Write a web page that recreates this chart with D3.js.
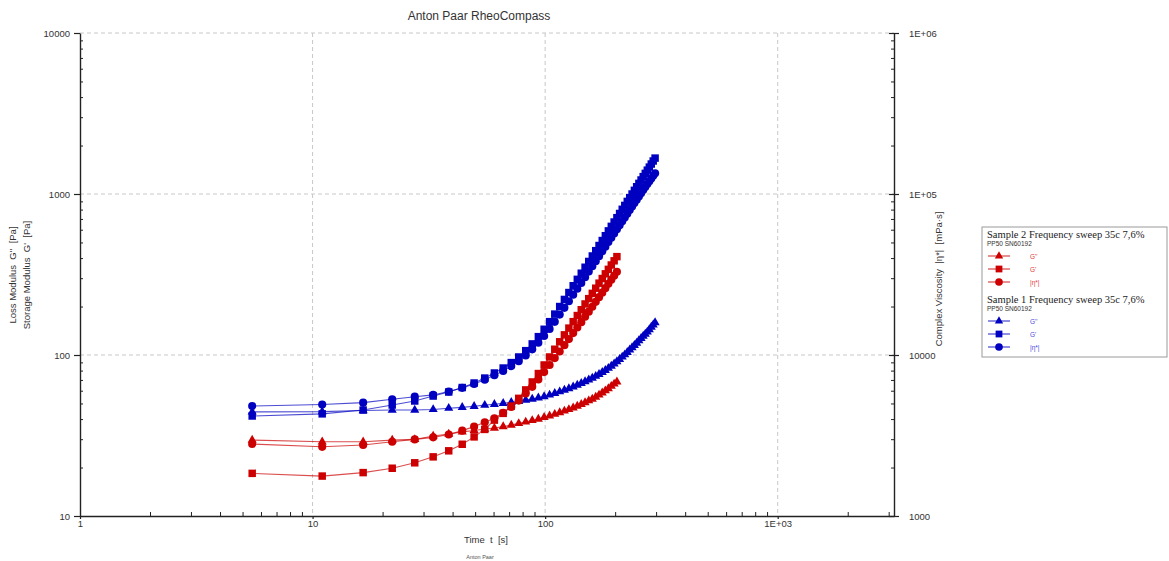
<!DOCTYPE html>
<html><head><meta charset="utf-8">
<script src="https://cdn.jsdelivr.net/npm/d3@7"></script>
<style>
body{margin:0;background:#fff;}
svg{display:block;font-family:"Liberation Sans",Arial,sans-serif;}
</style>
</head><body>
<svg id="c" width="1169" height="561"></svg>
<script>
// ---- data ----
const times = [5.5,11,16.5,22,27.5,33,38.5,44,49.5,55,60.5,66,71.5,77,82.5,88,93.5,99,104.5,110,
  115.5,121,126.5,132,137.5,143,148.5,154,159.5,165,170.5,176,181.5,187,192.5,198,203.5,209,214.5,220,
  225.5,231,236.5,242,247.5,253,258.5,264,269.5,275,280.5,286,291.5,297];

// Sample 1 (blue)
const s1Gpp = [44.3,44.5,45.2,45.5,45.5,45.9,46.7,47.3,48.0,48.8,49.4,50.1,50.8,51.5,52.5,53.3,54.2,55.2,56.5,57.8,
  59.2,60.5,61.9,63.4,65.0,66.7,68.4,70.1,71.9,73.8,75.9,78.0,80.4,82.8,85.3,88.1,91.0,94.0,97.2,100.5,
  104.0,107.6,111.2,114.8,118.6,123,127,131,135,139,144,149,154,159];
const s1Gp = [41.8,43.1,45.5,48.9,51.8,55.6,58.9,62.8,67.0,71.9,77.3,83.0,89.7,97.2,106.4,117.2,130.0,144.5,161.1,179.5,
  200.0,221.3,244.3,269.2,295.1,322.1,350.8,381.1,412.1,444.6,478.6,514.0,550.8,590.2,629.5,669.9,712.8,756.8,803.5,849.2,
  899.5,948.4,1000,1054,1109,1164,1222,1282,1343,1406,1469,1535,1603,1671];
const s1Eta = [4820,4930,5060,5310,5510,5650,5930,6250,6610,7030,7480,7960,8530,9160,9930,10840,11910,13120,14520,16070,
  17820,19630,21580,23660,25820,28050,30410,32960,35560,38280,41110,44060,47100,50350,53580,56890,60390,63970,67760,71450,
  75510,79430,83560,87900,92260,96610,101160,105930,110660,115350,119950,124740,129720,134590];

// Sample 2 (red)
const s2Gpp = [29.6,28.9,28.9,29.6,29.9,31.4,32.3,33.3,34.0,34.7,35.2,35.9,36.7,37.6,38.4,39.2,40.0,41.0,41.9,42.9,
  43.9,44.9,45.9,47.0,48.2,49.4,50.7,52.0,53.3,54.8,56.5,58.2,60.0,61.9,64.0,66.1,68.2];
const s2Gp = [18.4,17.7,18.6,19.8,21.4,23.3,25.4,27.9,31.0,34.5,39.4,43.4,48.2,53.8,60.7,68.0,76.7,86.7,97.2,108.6,
  120.8,133.4,146.9,161.1,175.8,191.0,207.5,223.9,241.5,260.0,279.3,298.5,319.2,340.4,362.2,384.6,408.3];
const s2Eta = [2800,2690,2760,2890,2990,3080,3210,3390,3590,3820,4050,4380,4750,5210,5770,6340,7050,7830,8670,9570,
  10520,11510,12560,13680,14830,16000,17300,18580,19950,21380,22860,24380,26000,27670,29380,31050,32890];

// ticks
const xTicks = [1,10,100,1000];
const xTickLabels = ["1","10","100","1E+03"];
const xMinor = [2,3,4,5,6,7,8,9,20,30,40,50,60,70,80,90,200,300,400,500,600,700,800,900,2000,3000];
const yLTicks = [10,100,1000,10000];
const yLTickLabels = ["10","100","1000","10000"];
const yLMinor = [20,30,40,50,60,70,80,90,200,300,400,500,600,700,800,900,2000,3000,4000,5000,6000,7000,8000,9000];
const yRTicks = [1000,10000,100000,1000000];
const yRTickLabels = ["1000","10000","1E+05","1E+06"];
const yRMinor = [2000,3000,4000,5000,6000,7000,8000,9000,20000,30000,40000,50000,60000,70000,80000,90000,
  200000,300000,400000,500000,600000,700000,800000,900000];

const legendGroups = [
  {title:"Sample 2 Frequency sweep 35c 7,6%", sub:"PP50 SN60192", color:"#cc0000", text:"#e03a3a",
   items:[["triangle","G''"],["square","G'"],["circle","|η*|"]]},
  {title:"Sample 1 Frequency sweep 35c 7,6%", sub:"PP50 SN60192", color:"#0000c0", text:"#4848e0",
   items:[["triangle","G''"],["square","G'"],["circle","|η*|"]]}
];

// ---- layout ----
const L = 80, R = 894, T = 33, B = 516;
const svg = d3.select("#c");
const x = d3.scaleLog().domain([1, Math.pow(10, 3.5)]).range([L, R]);
const yL = d3.scaleLog().domain([10, 10000]).range([B, T]);
const yR = d3.scaleLog().domain([1000, 1000000]).range([B, T]);

// grid
const grid = svg.append("g").attr("stroke", "#c8c8c8").attr("stroke-dasharray", "4,3").attr("stroke-width", 1);
[10,100,1000].forEach(v => grid.append("line").attr("x1", x(v)).attr("x2", x(v)).attr("y1", T).attr("y2", B));
[100,1000,10000].forEach(v => grid.append("line").attr("x1", L).attr("x2", R).attr("y1", yL(v)).attr("y2", yL(v)));

function styleAxis(g) {
  g.select(".domain").attr("stroke", "#222").attr("stroke-width", 1.4);
  g.selectAll(".tick line").attr("stroke", "#222").attr("stroke-width", 1.2);
  g.selectAll("text").attr("fill", "#333").style("font-size", "9.5px").style("font-family", "'Liberation Sans',Arial,sans-serif");
}

// bottom axis
const gx = svg.append("g").attr("transform", `translate(0,${B})`)
  .call(d3.axisBottom(x).tickValues(xTicks).tickFormat((d,i) => xTickLabels[i]).tickSizeInner(3).tickSizeOuter(0).tickPadding(1));
styleAxis(gx);
svg.append("g").attr("transform", `translate(0,${B})`)
  .call(d3.axisBottom(x).tickValues(xMinor).tickFormat("").tickSizeInner(-4).tickSizeOuter(0))
  .call(g => { g.select(".domain").remove(); g.selectAll("line").attr("stroke", "#222"); });

// left axis
const gyl = svg.append("g").attr("transform", `translate(${L},0)`)
  .call(d3.axisLeft(yL).tickValues(yLTicks).tickFormat((d,i) => yLTickLabels[i]).tickSizeInner(6).tickSizeOuter(0).tickPadding(4));
styleAxis(gyl);
svg.append("g").attr("transform", `translate(${L},0)`)
  .call(d3.axisLeft(yL).tickValues(yLMinor).tickFormat("").tickSizeInner(-3).tickSizeOuter(0))
  .call(g => { g.select(".domain").remove(); g.selectAll("line").attr("stroke", "#222"); });

// right axis
const gyr = svg.append("g").attr("transform", `translate(${R},0)`)
  .call(d3.axisRight(yR).tickValues(yRTicks).tickFormat((d,i) => yRTickLabels[i]).tickSizeInner(5).tickSizeOuter(0).tickPadding(10));
styleAxis(gyr);
svg.append("g").attr("transform", `translate(${R},0)`)
  .call(d3.axisRight(yR).tickValues(yRMinor).tickFormat("").tickSizeInner(-3).tickSizeOuter(0))
  .call(g => { g.select(".domain").remove(); g.selectAll("line").attr("stroke", "#222"); });
svg.append("g").attr("transform", `translate(${R},0)`)
  .call(d3.axisRight(yR).tickValues(yRTicks).tickFormat("").tickSizeInner(-5).tickSizeOuter(0))
  .call(g => { g.select(".domain").remove(); g.selectAll("line").attr("stroke", "#222").attr("stroke-width", 1.2); });

// texts
svg.append("text").attr("x", 479).attr("y", 20).attr("text-anchor", "middle")
  .style("font-size", "12px").attr("fill", "#333").text("Anton Paar RheoCompass");
svg.append("text").attr("x", 486).attr("y", 543).attr("text-anchor", "middle")
  .style("font-size", "9.5px").attr("fill", "#333").style("white-space", "pre").text("Time  t  [s]");
svg.append("text").attr("x", 480).attr("y", 559).attr("text-anchor", "middle")
  .style("font-size", "5.5px").attr("fill", "#555").text("Anton Paar");
svg.append("text").attr("transform", "translate(16,275) rotate(-90)").attr("text-anchor", "middle")
  .style("font-size", "9.5px").attr("fill", "#333").style("white-space", "pre").text("Loss Modulus  G''  [Pa]");
svg.append("text").attr("transform", "translate(30,275) rotate(-90)").attr("text-anchor", "middle")
  .style("font-size", "9.5px").attr("fill", "#333").style("white-space", "pre").text("Storage Modulus  G'  [Pa]");
svg.append("text").attr("transform", "translate(942,279) rotate(-90)").attr("text-anchor", "middle")
  .style("font-size", "9.5px").attr("fill", "#333").style("white-space", "pre").text("Complex Viscosity  |η*|  [mPa·s]");

// series
const symbols = {
  triangle: d3.symbol().type(d3.symbolTriangle).size(36),
  square: d3.symbol().type(d3.symbolSquare).size(56),
  circle: d3.symbol().type(d3.symbolCircle).size(52)
};
function drawSeries(xs, ys, yScale, color, shape) {
  const pts = xs.map((t,i) => [x(t), yScale(ys[i])]);
  svg.append("path").attr("d", d3.line()(pts)).attr("fill", "none")
    .attr("stroke", color).attr("stroke-width", 1.1).attr("stroke-opacity", 0.7);
  svg.append("g").selectAll("path").data(pts).join("path")
    .attr("transform", d => `translate(${d[0]},${d[1]})`)
    .attr("d", symbols[shape]()).attr("fill", color);
}
const blue = "#0000c0", red = "#cc0000";
drawSeries(times, s1Gpp, yL, blue, "triangle");
drawSeries(times, s1Gp, yL, blue, "square");
drawSeries(times, s1Eta, yR, blue, "circle");
const t2 = times.slice(0, s2Gp.length);
drawSeries(t2, s2Gpp, yL, red, "triangle");
drawSeries(t2, s2Gp, yL, red, "square");
drawSeries(t2, s2Eta, yR, red, "circle");

// legend
const lg = svg.append("g");
lg.append("rect").attr("x", 982).attr("y", 227).attr("width", 185).attr("height", 130)
  .attr("fill", "#fff").attr("stroke", "#9a9a9a").attr("stroke-width", 1);
const legSym = {
  triangle: d3.symbol().type(d3.symbolTriangle).size(30),
  square: d3.symbol().type(d3.symbolSquare).size(46),
  circle: d3.symbol().type(d3.symbolCircle).size(46)
};
const groupY = [238, 303];
const rowY = [[256,269,282],[321,334,347]];
legendGroups.forEach((g, gi) => {
  lg.append("text").attr("x", 987).attr("y", groupY[gi]).style("font-family", "'Liberation Serif','Times New Roman',serif")
    .style("font-size", "10.5px").attr("fill", "#222").text(g.title);
  lg.append("text").attr("x", 987).attr("y", groupY[gi] + 8).style("font-size", "6.5px").attr("fill", "#333").text(g.sub);
  g.items.forEach((it, ii) => {
    const yy = rowY[gi][ii];
    lg.append("line").attr("x1", 988).attr("x2", 1010).attr("y1", yy).attr("y2", yy)
      .attr("stroke", g.color).attr("stroke-width", 1.1).attr("stroke-opacity", 0.8);
    lg.append("path").attr("transform", `translate(999,${yy})`).attr("d", legSym[it[0]]()).attr("fill", g.color);
    lg.append("text").attr("x", 1030).attr("y", yy + 2.5).style("font-size", "6.5px").attr("fill", g.text).text(it[1]);
  });
});
</script>
</body></html>
